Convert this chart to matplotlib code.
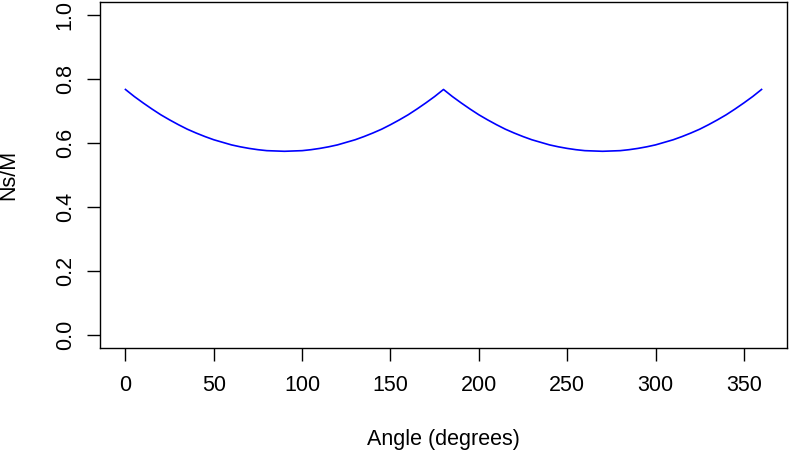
"""
plot.py - Ns/M versus angle, redrawn in the style of an R base plot.
"""

import matplotlib
matplotlib.use("Agg")
import matplotlib.pyplot as plt

# Angle in degrees (every 5 degrees) and Ns/M
angles = list(range(0, 365, 5))
ns_over_m = [0.767, 0.745, 0.725, 0.706, 0.688, 0.672, 0.657, 0.643, 0.631, 0.620,
             0.610, 0.602, 0.594, 0.588, 0.583, 0.579, 0.576, 0.575, 0.574, 0.575,
             0.576, 0.579, 0.583, 0.588, 0.594, 0.602, 0.610, 0.620, 0.631, 0.643,
             0.657, 0.672, 0.688, 0.706, 0.725, 0.745, 0.767,
             0.745, 0.725, 0.706, 0.688, 0.672, 0.657, 0.643, 0.631, 0.620,
             0.610, 0.602, 0.594, 0.588, 0.583, 0.579, 0.576, 0.575, 0.574, 0.575,
             0.576, 0.579, 0.583, 0.588, 0.594, 0.602, 0.610, 0.620, 0.631, 0.643,
             0.657, 0.672, 0.688, 0.706, 0.725, 0.745, 0.767]

x_ticks = [0, 50, 100, 150, 200, 250, 300, 350]
y_ticks = [0.0, 0.2, 0.4, 0.6, 0.8, 1.0]

plt.rcParams["font.family"] = ["Liberation Sans", "DejaVu Sans"]
FS = 15.5

fig = plt.figure(figsize=(7.89, 4.55), dpi=100)
ax = fig.add_axes([100 / 789, 107 / 455, 687 / 789, 346 / 455])

ax.plot(angles, ns_over_m, color="#0000ff", linewidth=1.2)

# R pads the data range by 4% on each side
ax.set_xlim(-14.4, 374.4)
ax.set_ylim(-0.04, 1.04)

ax.set_xticks(x_ticks)
ax.set_xticklabels([str(t) for t in x_ticks], fontsize=FS)
ax.set_yticks(y_ticks)
ax.set_yticklabels([f"{t:.1f}" for t in y_ticks], fontsize=FS,
                   rotation=90, va="center")

ax.tick_params(axis="x", length=9.4, width=1.0, pad=10, color="#000000")
ax.tick_params(axis="y", length=9.4, width=1.0, pad=8, color="#000000")

for spine in ax.spines.values():
    spine.set_linewidth(1.0)
    spine.set_color("#000000")

fig.text(443.5 / 789, 15 / 455, "Angle (degrees)", fontsize=FS,
         ha="center", va="center")
fig.text(9 / 789, 1 - 175 / 455, "Ns/M", fontsize=FS,
         ha="center", va="center", rotation=90)

fig.savefig("out.png", dpi=100)
